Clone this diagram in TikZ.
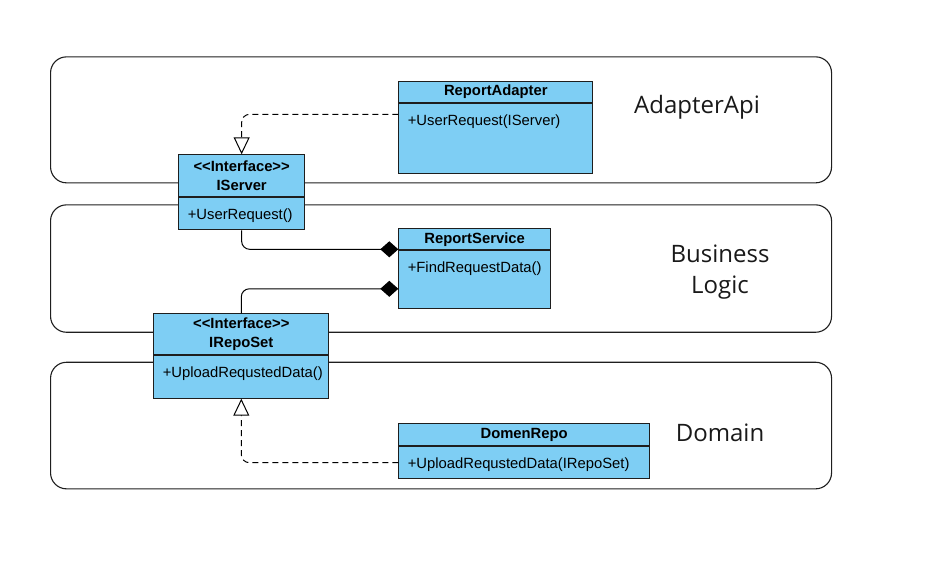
\documentclass[tikz,border=0pt]{standalone}
\usepackage{fontspec}
\setmainfont{Liberation Sans}
\newfontfamily\layerfont{Open Sans}
\usetikzlibrary{positioning,arrows.meta}

\definecolor{classblue}{RGB}{126,206,244}
\definecolor{edgegray}{RGB}{30,30,30}

\newcommand{\stereo}[1]{<\kern0pt<#1>\kern0pt>}

\begin{document}
\begin{tikzpicture}[
            x=1pt, y=-1pt,
            layer/.style={ draw=edgegray, line width=1.1pt, rounded corners=16pt, inner sep=0pt, anchor=north west, minimum width=781pt },
            layername/.style={ font=\layerfont\fontsize{24}{31.6}\selectfont, text=black!90, align=center },
            head/.style={ draw=edgegray, fill=classblue, line width=1pt, inner sep=0pt, anchor=north west, align=center, font=\fontsize{14.8}{19}\selectfont\bfseries },
            body/.style={ draw=edgegray, fill=classblue, line width=1pt, inner xsep=9pt, inner ysep=0pt, align=left, text height=21.5pt, font=\fontsize{14.8}{18}\selectfont },
            realize/.style={ dash pattern=on 6pt off 4pt, line width=1pt, rounded corners=8pt, -{Triangle[open,length=17pt,width=16pt]} },
            compose/.style={ line width=1pt, rounded corners=8pt, -{Diamond[length=18pt,width=16pt]} },
            node distance=0pt
        ]
        \useasboundingbox (0,0) rectangle (925,578);

        \node[layer, minimum height=126pt]   (api) at (50,56.3)  {};
        \node[layer, minimum height=127.4pt] (biz) at (50,204.3) {};
        \node[layer, minimum height=126.6pt] (dom) at (50,361.7) {};

        \node[layername, anchor=base] (api-l) at (697,113) {AdapterApi};
        \node[layername]              (biz-l) at (720,272) {Business\\Logic};
        \node[layername, anchor=base] (dom-l) at (720,441) {Domain};

        \node[head, minimum width=194pt, minimum height=21.3pt] (ra-h) at (398.3,81) {ReportAdapter};
        \node[body, below=of ra-h, text width=176pt, text depth=47.9pt] (ra-b) {+UserRequest(IServer)};

        \node[head, minimum width=125.7pt, minimum height=41.7pt] (is-h) at (178.3,154.3) {\stereo{Interface}\\IServer};
        \node[body, below=of is-h, text width=107.7pt, text depth=10.8pt] (is-b) {+UserRequest()};

        \node[head, minimum width=151.7pt, minimum height=21pt] (rs-h) at (398.3,228.3) {ReportService};
        \node[body, below=of rs-h, text width=133.7pt, text depth=36.5pt] (rs-b) {+FindRequestData()};

        \node[head, minimum width=175pt, minimum height=41pt] (ir-h) at (153.3,313.3) {\stereo{Interface}\\IRepoSet};
        \node[body, below=of ir-h, text width=157pt, text depth=20.9pt] (ir-b) {+UploadRequstedData()};

        \node[head, minimum width=250.7pt, minimum height=21.7pt] (dr-h) at (398.3,423.3) {DomenRepo};
        \node[body, below=of dr-h, text width=232.7pt, text depth=10.8pt] (dr-b) {+UploadRequstedData(IRepoSet)};

        \draw[realize] ([yshift=-11pt]ra-b.north west) -| (is-h.north);
        \draw[compose] (is-b.south) |- ([yshift=1pt]rs-h.south west);
        \draw[compose] (ir-h.north) |- ([yshift=-9pt]rs-b.west);
        \draw[realize] (dr-b.west) -| (ir-b.south);
    \end{tikzpicture}
\end{document}
